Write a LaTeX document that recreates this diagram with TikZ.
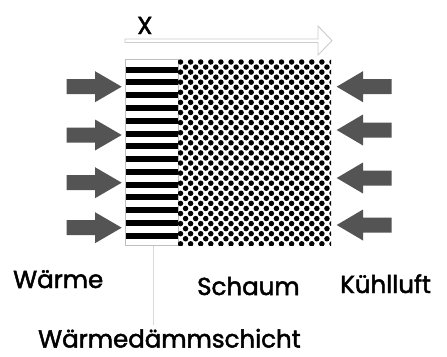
\documentclass[tikz,border=0pt]{standalone}
\usepackage{fontspec}
\setmainfont{Poppins}
\newfontfamily\lblfont{Poppins}[FakeBold=2]
\begin{document}
\begin{tikzpicture}[x=1pt,y=-1pt,
  heat/.style={fill=black!67,draw=none},
  lbl/.style={inner sep=0pt,anchor=base west,text depth=0pt,font=\lblfont\fontsize{24.5}{26}\selectfont},
  axis/.style={draw=black!20,line width=0.9pt,fill=white}]
\useasboundingbox[fill=white] (0,0) rectangle (447,356);
% axis arrow (hollow)
\draw[axis] (125,39) -- (318,39) -- (318,26) -- (332,40.7) -- (318,55) -- (318,42.5) -- (125,42.5) -- cycle;
\node[lbl] (x) at (137,34) {X};
% insulation layer
\draw[black!25,line width=0.5pt,fill=white] (125,59.5) rectangle (178,245.5);
\foreach \i in {0,...,13}
  \fill[black] (125.5,66.7+\i*12.77) rectangle (178,72.7+\i*12.77);
% foam
\begin{scope}
\clip (178,59.5) rectangle (331,245.5);
\foreach \j in {0,...,37}{
  \pgfmathsetmacro\off{mod(\j,2)*5.05}
  \foreach \k in {0,...,15}
    \fill[black] (180.5+\k*10.1+\off,62+\j*5.05) circle (2.75pt);
}
\end{scope}
% heat arrows (left)
\foreach \c in {86.7,135,182.7,227.7}
  \fill[heat] (66.7,\c-7.5) -- (95,\c-7.5) -- (95,\c-15.5) -- (121.7,\c) -- (95,\c+15.5) -- (95,\c+7.5) -- (66.7,\c+7.5) -- cycle;
% cooling arrows (right)
\foreach \c in {86.7,130,178,225}
  \fill[heat] (391.7,\c-7.5) -- (363,\c-7.5) -- (363,\c-15.5) -- (336.7,\c) -- (363,\c+15.5) -- (363,\c+7.5) -- (391.7,\c+7.5) -- cycle;
% leader line
\coordinate (lt) at (153,246);
\coordinate (lb) at (153,325);
\draw[black!15,line width=0.8pt] (lt) -- (lb);
% labels
\node[lbl] (waerme) at (13,288) {Wärme};
\node[lbl] (schaum) at (197,295) {Schaum};
\node[lbl] (kuehl) at (340,293) {Kühlluft};
\node[lbl] (wds) at (38,347.5) {Wärmedämmschicht};
\end{tikzpicture}
\end{document}
